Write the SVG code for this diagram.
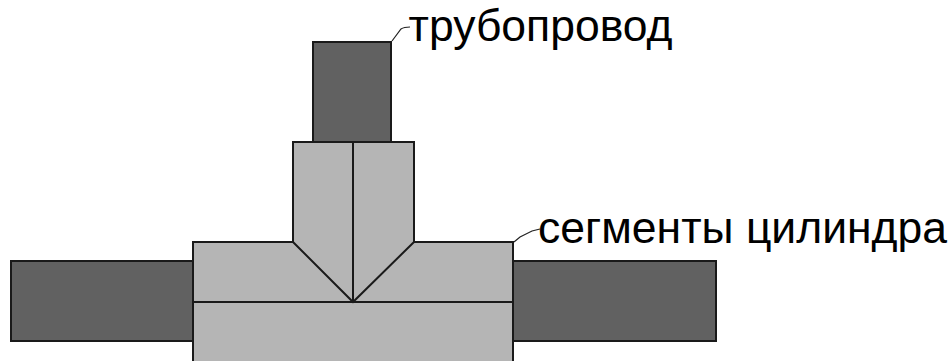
<svg xmlns="http://www.w3.org/2000/svg" width="951" height="361" viewBox="0 0 951 361">
<style>
.pipe{fill:#616161;stroke:#1a1a1a;stroke-width:2}
.seg{fill:#b5b5b5;stroke:#1a1a1a;stroke-width:2}
.ln{fill:none;stroke:#1a1a1a;stroke-width:2}
.lead{fill:none;stroke:#222;stroke-width:1.2}
text{font-family:"Liberation Sans",Arial,sans-serif;font-size:44.5px;fill:#000}
</style>
<rect width="951" height="361" fill="#fff"/>
<g id="pipe-top"><rect class="pipe" x="313" y="42" width="78" height="100"/></g>
<g id="pipe-left"><rect class="pipe" x="11" y="261" width="182" height="80"/></g>
<g id="pipe-right"><rect class="pipe" x="513" y="261" width="203" height="80"/></g>
<g id="tee">
<path class="seg" d="M293 142H414V242H513V362H193V242H293Z"/>
<path class="ln" d="M353 142V302M293 242L353 302L414 242M193 302H513"/>
</g>
<g id="connectors">
<path class="lead" d="M392 41L401 29Q404 27 410 27"/>
<path class="lead" d="M514 242L520 237L532 231L540 229"/>
</g>
<g id="label-pipe"><text x="408.500" y="41">трубопровод</text></g>
<g id="label-seg"><text x="538" y="242.500">сегменты цилиндра</text></g>
</svg>
